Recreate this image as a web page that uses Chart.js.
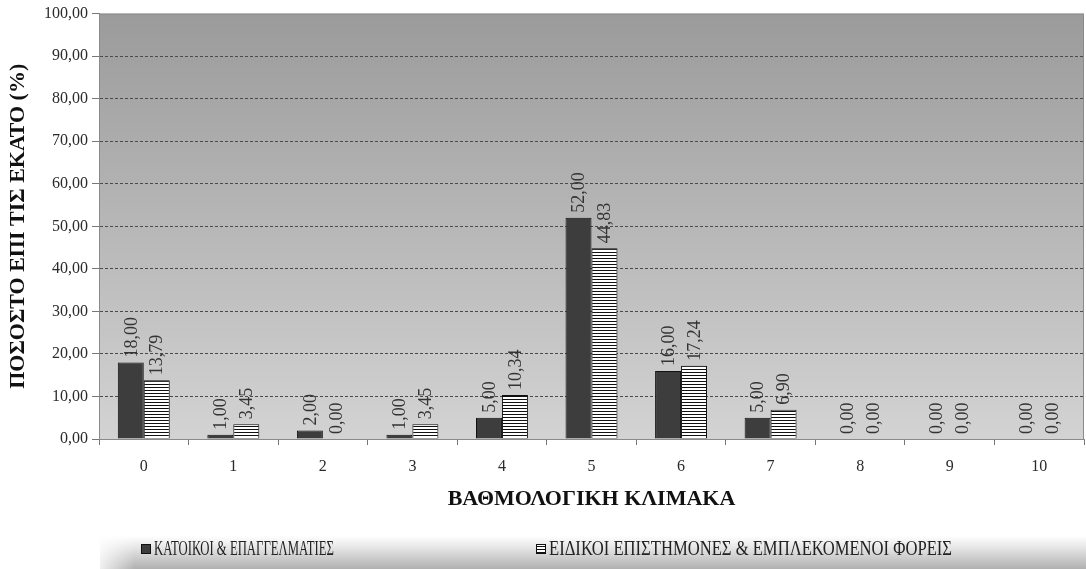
<!DOCTYPE html>
<html>
<head>
<meta charset="utf-8">
<script src="https://cdn.jsdelivr.net/npm/chart.js@4.4.1/dist/chart.umd.min.js"></script>
<style>
  html, body { margin: 0; padding: 0; background: #fff; }
  #wrap { width: 1086px; height: 569px; }
</style>
</head>
<body>
<div id="wrap"><canvas id="chart" width="1086" height="569"></canvas></div>
<script>
const categories = ['0', '1', '2', '3', '4', '5', '6', '7', '8', '9', '10'];
const residents = [18.00, 1.00, 2.00, 1.00, 5.00, 52.00, 16.00, 5.00, 0.00, 0.00, 0.00];
const experts = [13.79, 3.45, 0.00, 3.45, 10.34, 44.83, 17.24, 6.90, 0.00, 0.00, 0.00];
const seriesNames = ['ΚΑΤΟΙΚΟΙ & ΕΠΑΓΓΕΛΜΑΤΙΕΣ', 'ΕΙΔΙΚΟΙ ΕΠΙΣΤΗΜΟΝΕΣ & ΕΜΠΛΕΚΟΜΕΝΟΙ ΦΟΡΕΙΣ'];
const yTicks = [0, 10, 20, 30, 40, 50, 60, 70, 80, 90, 100];

const SERIF = '"Liberation Serif", "DejaVu Serif", serif';
const fmt = v => v.toFixed(2).replace('.', ',');

// horizontal stripe fill for the second series
function stripes() {
    const c = document.createElement('canvas');
    c.width = 4; c.height = 3;
    const g = c.getContext('2d');
    g.fillStyle = '#ffffff';
    g.fillRect(0, 0, 4, 3);
    g.fillStyle = '#111111';
    g.fillRect(0, 0, 4, 1);
    return g.createPattern(c, 'repeat');
}

const ctx = document.getElementById('chart').getContext('2d');

const plotBg = {
    id: 'plotBg',
    beforeDraw(chart) {
        const a = chart.chartArea, c = chart.ctx;
        const grad = c.createLinearGradient(0, a.top, 0, a.bottom);
        grad.addColorStop(0, '#9b9b9b');
        grad.addColorStop(1, '#d3d3d3');
        c.save();
        c.fillStyle = grad;
        c.fillRect(a.left, a.top, a.right - a.left, a.bottom - a.top);
        c.strokeStyle = '#8a8a8a';
        c.lineWidth = 1;
        c.strokeRect(a.left + 0.5, a.top + 0.5, a.right - a.left - 1, a.bottom - a.top);
        c.restore();
    }
};

const valueLabels = {
    id: 'valueLabels',
    afterDatasetsDraw(chart) {
        const c = chart.ctx;
        c.save();
        c.font = '18px ' + SERIF;
        c.fillStyle = '#333333';
        c.textAlign = 'left';
        c.textBaseline = 'middle';
        chart.data.datasets.forEach((ds, i) => {
            chart.getDatasetMeta(i).data.forEach((bar, j) => {
                c.save();
                c.translate(bar.x + 1, bar.y - 5);
                c.rotate(-Math.PI / 2);
                c.fillText(fmt(ds.data[j]), 0, 0);
                c.restore();
            });
        });
        c.restore();
    }
};

const bottomLegend = {
    id: 'bottomLegend',
    afterDraw(chart) {
        const c = chart.ctx;
        const top = 536, bottom = chart.height;
        c.save();
        const g = c.createLinearGradient(0, top, 0, bottom);
        g.addColorStop(0, '#ffffff');
        g.addColorStop(0.35, '#e6e6e6');
        g.addColorStop(1, '#b0b0b0');
        c.fillStyle = g;
        c.fillRect(100, top, chart.width - 100, bottom - top);
        const fade = c.createLinearGradient(100, 0, 135, 0);
        fade.addColorStop(0, 'rgba(255,255,255,0.8)');
        fade.addColorStop(1, 'rgba(255,255,255,0)');
        c.fillStyle = fade;
        c.fillRect(100, top, 35, bottom - top);

        const items = [
            { x: 141, w: 180 },
            { x: 536, w: 403 }
        ];
        c.font = '20px ' + SERIF;
        c.textBaseline = 'middle';
        c.textAlign = 'left';
        chart.data.datasets.forEach((ds, i) => {
            const it = items[i];
            const y = 549;
            c.fillStyle = ds.backgroundColor;
            c.fillRect(it.x, y - 5, 10, 10);
            c.strokeStyle = '#111';
            c.lineWidth = 1;
            c.strokeRect(it.x + 0.5, y - 4.5, 9, 9);
            c.fillStyle = '#222';
            c.fillText(ds.label, it.x + 13, y + 1, it.w);
        });
        c.restore();
    }
};

new Chart(ctx, {
    type: 'bar',
    data: {
        labels: categories,
        datasets: [{
            label: seriesNames[0],
            data: residents,
            backgroundColor: '#3d3d3d',
            borderColor: '#111111',
            borderWidth: 1
        }, {
            label: seriesNames[1],
            data: experts,
            backgroundColor: stripes(),
            borderColor: '#111111',
            borderWidth: 1
        }]
    },
    options: {
        responsive: false,
        animation: false,
        layout: {
            padding: { left: 0, right: 2, top: 11, bottom: 50 }
        },
        datasets: {
            bar: {
                categoryPercentage: 0.58,
                barPercentage: 1.0
            }
        },
        plugins: {
            legend: { display: false },
            tooltip: { enabled: false }
        },
        scales: {
            y: {
                min: 0,
                max: 100,
                afterBuildTicks: scale => {
                    scale.ticks = yTicks.map(v => ({ value: v }));
                },
                afterFit: scale => { scale.width = 99; },
                ticks: {
                    color: '#2a2a2a',
                    font: { family: SERIF, size: 16 },
                    padding: 4,
                    callback: v => fmt(v)
                },
                grid: {
                    color: ctx => ctx.tick && (ctx.tick.value === 0 || ctx.tick.value === 100) ? 'rgba(0,0,0,0)' : '#4a4a4a',
                    tickColor: '#777',
                    tickLength: 7,
                    lineWidth: 1
                },
                border: {
                    color: '#8a8a8a',
                    dash: [3, 2]
                },
                title: {
                    display: true,
                    text: 'ΠΟΣΟΣΤΟ ΕΠΙ ΤΙΣ ΕΚΑΤΟ (%)',
                    color: '#111',
                    font: { family: SERIF, size: 22, weight: 'bold' },
                    padding: { top: 5, bottom: 0 }
                }
            },
            x: {
                afterFit: scale => { scale.height = 80; },
                ticks: {
                    color: '#2a2a2a',
                    font: { family: SERIF, size: 16 },
                    padding: 12
                },
                grid: {
                    drawOnChartArea: false,
                    offset: true,
                    tickColor: '#777',
                    tickLength: 6
                },
                border: { color: '#8a8a8a' },
                title: {
                    display: true,
                    text: 'ΒΑΘΜΟΛΟΓΙΚΗ ΚΛΙΜΑΚΑ',
                    color: '#111',
                    font: { family: SERIF, size: 22, weight: 'bold' },
                    padding: { top: 0, bottom: 6 }
                }
            }
        }
    },
    plugins: [plotBg, valueLabels, bottomLegend]
});
</script>
</body>
</html>
